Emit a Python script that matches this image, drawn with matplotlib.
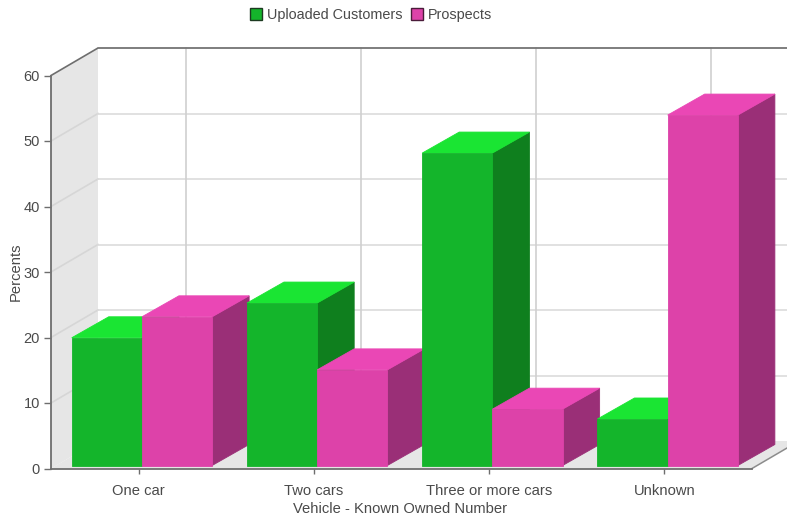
import matplotlib
matplotlib.use('Agg')
import numpy as np
import matplotlib.pyplot as plt
from matplotlib.patches import Patch

categories = ['One car', 'Two cars', 'Three or more cars', 'Unknown']
uploaded = [19.5, 24.8, 47.7, 7.1]
prospects = [22.7, 14.6, 8.6, 53.5]
y_ticks = [0, 10, 20, 30, 40, 50, 60]

plt.rcParams['font.family'] = ['Liberation Sans', 'DejaVu Sans']
plt.rcParams['font.size'] = 10.6
text_col = '#4a4a4a'
axis_col = '#6e6e6e'

W, H = 787.0, 521.0
left, right, bottom, top = 51.0, 752.0, 468.5, 75.5

fig = plt.figure(figsize=(W / 100, H / 100), dpi=100)
ax = fig.add_axes([left / W, 1 - bottom / H, (right - left) / W, (bottom - top) / H])
ax.set_xlim(0, 4)
ax.set_ylim(0, 60)
ax.patch.set_alpha(0)

# pixel sizes turned into data units, the 3d look is only sheared polygons
ux = (right - left) / 4.0
uy = (bottom - top) / 60.0
wall_dx = 47.0 / ux
wall_dy = 27.5 / uy
bar_dx = 37.0 / ux
bar_dy = 21.0 / uy
base_dx = 3.3 / ux
base_dy = 3.0 / uy
bar_w = 70.2 / ux

# walls and floor
ax.fill([0, wall_dx, wall_dx, 0], [60, 60 + wall_dy, wall_dy, 0], color='#e6e6e6', lw=0, clip_on=False, zorder=1)
ax.fill([0, 4, 4 + wall_dx, wall_dx], [0, 0, wall_dy, wall_dy], color='#e6e6e6', lw=0, clip_on=False, zorder=1)

# grid
for t in y_ticks[1:-1]:
    ax.plot([0, wall_dx], [t, t + wall_dy], color='#d6d6d6', lw=1.2, clip_on=False, zorder=2)
for t in y_ticks[1:]:
    ax.plot([wall_dx, 4 + wall_dx], [t + wall_dy, t + wall_dy], color='#dcdcdc', lw=1.2, clip_on=False, zorder=2)
for i in range(len(categories)):
    ax.plot([i + 0.5 + wall_dx] * 2, [wall_dy, 60 + wall_dy], color='#d0d0d0', lw=1.2, clip_on=False, zorder=2)

# outer edges
ax.plot([0, wall_dx, 4 + wall_dx], [60, 60 + wall_dy, 60 + wall_dy], color=axis_col, lw=1.2, clip_on=False, zorder=3)
ax.plot([4, 4 + wall_dx], [0, wall_dy], color='#8c8c8c', lw=1.1, clip_on=False, zorder=3)


def draw_bar(x0, val, front, top_col, side, z):
    x1 = x0 + bar_w
    y0 = base_dy
    y1 = base_dy + val
    ax.fill([x1, x1 + bar_dx, x1 + bar_dx, x1], [y0, y0 + bar_dy, y1 + bar_dy, y1],
            color=side, lw=0.6, zorder=z, clip_on=False)
    ax.fill([x0, x0 + bar_dx, x1 + bar_dx, x1], [y1, y1 + bar_dy, y1 + bar_dy, y1],
            color=top_col, lw=0.6, zorder=z, clip_on=False)
    ax.bar(x0, val, width=bar_w, bottom=y0, align='edge', color=front, edgecolor=front, lw=0.6,
           zorder=z, clip_on=False)


z = 4
for i in range(len(categories)):
    x_mid = i + 0.5 + base_dx
    draw_bar(x_mid - bar_w, uploaded[i], '#14b52b', '#1ae533', '#0f7f1e', z)
    draw_bar(x_mid, prospects[i], '#dd42a9', '#ea47b5', '#9a2f77', z + 0.5)
    z += 1

for s in ['top', 'right']:
    ax.spines[s].set_visible(False)
for s in ['left', 'bottom']:
    ax.spines[s].set_color(axis_col)
    ax.spines[s].set_linewidth(1.3)
    ax.spines[s].set_zorder(20)

ax.set_xticks(np.arange(len(categories)) + 0.5)
ax.set_xticklabels(categories)
ax.set_yticks(y_ticks)
ax.tick_params(axis='x', length=3.5, width=1, color=axis_col, labelcolor=text_col, pad=8)
ax.tick_params(axis='y', length=5, width=1, color=axis_col, labelcolor=text_col, pad=3, labelsize=10.5)

fig.text(400 / W, 1 - 509 / H, 'Vehicle - Known Owned Number', ha='center', va='center', color=text_col)
fig.text(16 / W, 1 - 272 / H, 'Percents', rotation=90, ha='center', va='center', color=text_col)

handles = [Patch(facecolor='#14b52b', edgecolor='#1c3a20', lw=1, label='Uploaded Customers'),
           Patch(facecolor='#dd42a9', edgecolor='#4a1c3a', lw=1, label='Prospects')]
fig.legend(handles=handles, loc='center', bbox_to_anchor=(371 / W, 1 - 15 / H), ncol=2, frameon=False,
           handlelength=0.83, handleheight=0.83, handletextpad=0.3, columnspacing=0.62,
           labelcolor=text_col, borderpad=0, fontsize=10.4)

fig.savefig('out.png', dpi=100)
